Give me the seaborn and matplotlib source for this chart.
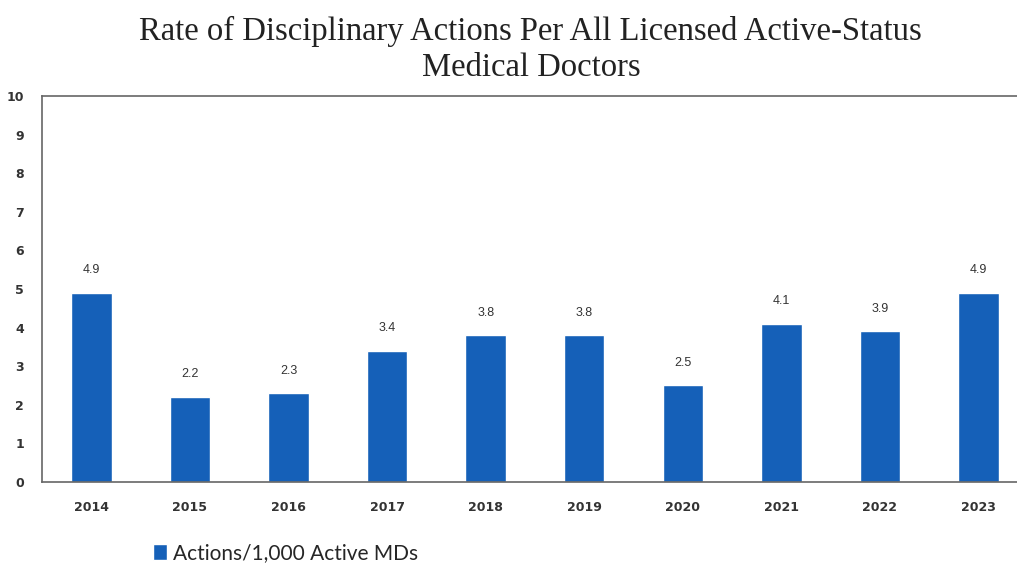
import pandas as pd
import matplotlib.pyplot as plt
import seaborn as sns

# chart data
years = ['2014', '2015', '2016', '2017', '2018',
         '2019', '2020', '2021', '2022', '2023']
rates = [4.9, 2.2, 2.3, 3.4, 3.8, 3.8, 2.5, 4.1, 3.9, 4.9]
series_name = 'Actions/1,000 Active MDs'

df = pd.DataFrame({'year': years, 'rate': rates, 'series': series_name})

sns.set_style('white')
plt.rcParams['font.family'] = ['DejaVu Sans']

fig = plt.figure(figsize=(10.17, 5.65), dpi=100)
ax = fig.add_axes([0.0413, 0.147, 0.9587, 0.683])

sns.barplot(data=df, x='year', y='rate', hue='series',
            palette=['#1560B8'], width=0.41, saturation=1, ax=ax)

# value labels
for container in ax.containers:
    ax.bar_label(container, fmt='%.1f', padding=12,
                 fontsize=9, color='#333333', family='Liberation Sans')

ax.set_xlabel('')
ax.set_ylabel('')

# ticks between categories on x
ax.set_xticks([i - 0.5 for i in range(10)], minor=False)
ax.set_xticklabels([])
ax.set_xticks(range(10), minor=True)
ax.set_xticklabels(years, minor=True)
ax.set_yticks(range(0, 11))
ax.set_ylim(0, 10)
ax.set_xlim(-0.5, 9.39)
ax.tick_params(axis='x', which='minor', length=0, pad=14)
ax.tick_params(axis='x', which='major', direction='out', length=5,
               color='#555555')
ax.tick_params(axis='y', direction='out', length=5, color='#555555',
               pad=8)
for lbl in ax.get_xticklabels(minor=True) + ax.get_yticklabels():
    lbl.set_fontweight('bold')
    lbl.set_fontsize(9)
    lbl.set_color('#333333')

for side in ['left', 'bottom', 'top']:
    ax.spines[side].set_color('#666666')
    ax.spines[side].set_linewidth(1.2)
ax.spines['right'].set_visible(False)

fig.suptitle('Rate of Disciplinary Actions Per All Licensed Active-Status\nMedical Doctors',
             x=0.522, y=0.972, va='top', fontsize=23.5,
             family='Liberation Serif', color='#222222', linespacing=1.22)

leg = ax.legend(loc='center left', bbox_to_anchor=(0.095, -0.185),
                frameon=False, handlelength=0.65,
                handleheight=0.8, handletextpad=0.3,
                prop={'family': 'Lato', 'size': 15})

plt.savefig('out.png', dpi=100)
